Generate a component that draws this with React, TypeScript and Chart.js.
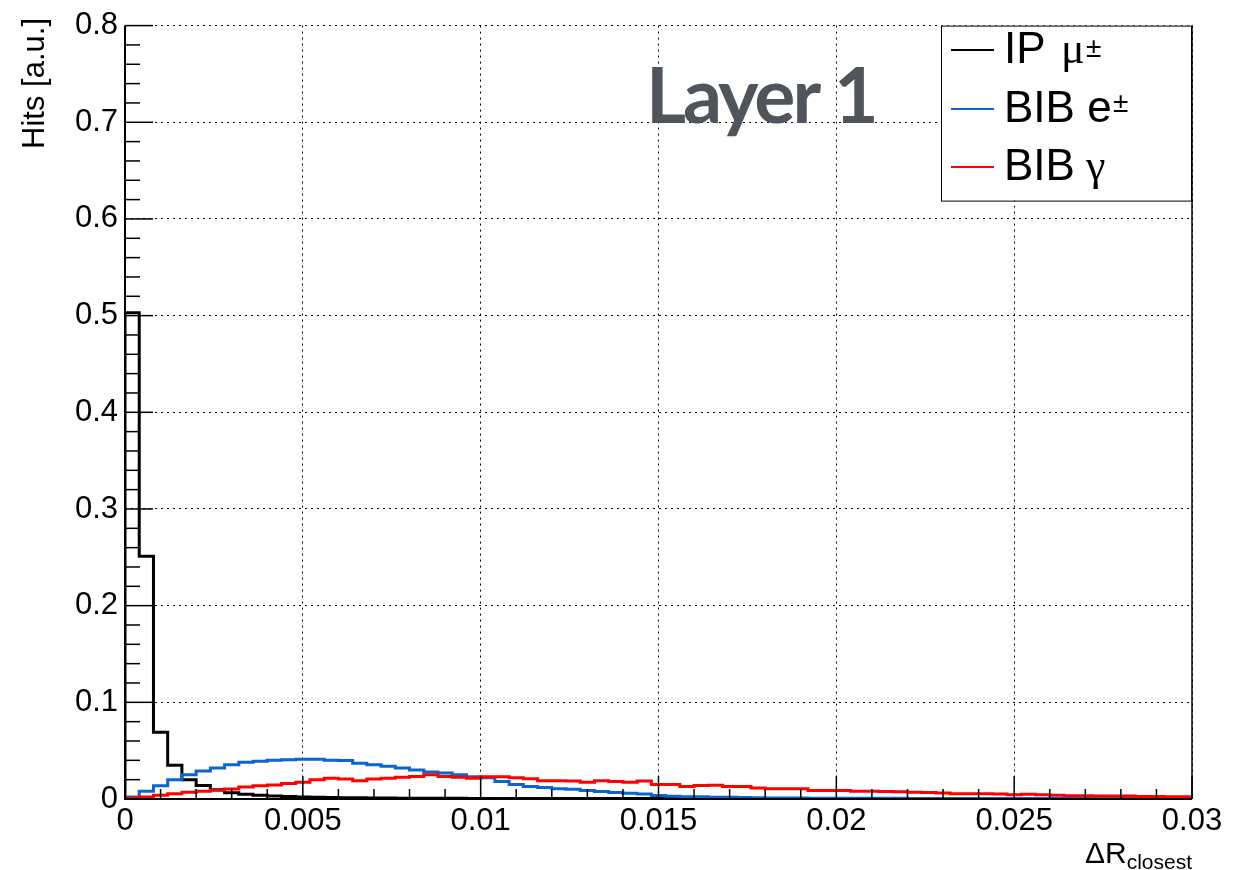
import React, { useEffect, useRef } from "react";
import { Chart, registerables } from "chart.js";

Chart.register(...registerables);

const BIN_WIDTH = 0.0004;
const X_MIN = 0;
const X_MAX = 0.03;
const Y_MIN = 0;
const Y_MAX = 0.8;

const xTickValues = [0, 0.005, 0.01, 0.015, 0.02, 0.025, 0.03];
const xTickLabels = ["0", "0.005", "0.01", "0.015", "0.02", "0.025", "0.03"];
const yTickValues = [0, 0.1, 0.2, 0.3, 0.4, 0.5, 0.6, 0.7, 0.8];
const yTickLabels = ["0", "0.1", "0.2", "0.3", "0.4", "0.5", "0.6", "0.7", "0.8"];

// IP mu± (black)
const ipMu = [
  0.503, 0.251, 0.069, 0.035, 0.02, 0.014, 0.0095, 0.0065, 0.0048, 0.0038,
  0.003, 0.0025, 0.0021, 0.0018, 0.0015, 0.0013, 0.0012, 0.0011, 0.001, 0.0009,
  0.0008, 0.0008, 0.0007, 0.0007, 0.0006, 0.0006, 0.0006, 0.0005, 0.0005, 0.0005,
  0.0004, 0.0004, 0.0004, 0.0004, 0.0004, 0.0004, 0.0004, 0.0004, 0.0004, 0.0004,
  0.0003, 0.0003, 0.0003, 0.0003, 0.0003, 0.0003, 0.0003, 0.0003, 0.0003, 0.0003,
  0.0002, 0.0002, 0.0002, 0.0002, 0.0002, 0.0002, 0.0002, 0.0002, 0.0002, 0.0002,
  0.0002, 0.0002, 0.0001, 0.0001, 0.0001, 0.0001, 0.0001, 0.0001, 0.0001, 0.0001,
  0.0001, 0.0001, 0.0001, 0.0001, 0.0001,
];

// BIB e± (blue)
const bibE = [
  0.002, 0.008, 0.0138, 0.02, 0.025, 0.029, 0.032, 0.0355, 0.038, 0.039,
  0.04, 0.0407, 0.041, 0.041, 0.04, 0.0397, 0.037, 0.0355, 0.034, 0.032,
  0.03, 0.028, 0.027, 0.025, 0.023, 0.022, 0.018, 0.015, 0.013, 0.012,
  0.0105, 0.01, 0.0087, 0.0077, 0.0066, 0.006, 0.0052, 0.0035, 0.0028, 0.0024,
  0.0024, 0.0017, 0.0017, 0.0015, 0.0012, 0.0011, 0.001, 0.001, 0.0009, 0.0009,
  0.0008, 0.0008, 0.0007, 0.0007, 0.0007, 0.0006, 0.0006, 0.0006, 0.0005, 0.0005,
  0.0005, 0.0005, 0.0004, 0.0004, 0.0004, 0.0004, 0.0004, 0.0003, 0.0003, 0.0003,
  0.0003, 0.0003, 0.0003, 0.0002, 0.0002,
];

// BIB gamma (red)
const bibGamma = [
  0.001, 0.002, 0.0038, 0.0055, 0.0069, 0.008, 0.009, 0.0103, 0.0124, 0.0138,
  0.0145, 0.016, 0.0172, 0.02, 0.0214, 0.0207, 0.019, 0.0207, 0.0214, 0.0224,
  0.0234, 0.025, 0.0234, 0.0224, 0.0214, 0.023, 0.023, 0.022, 0.021, 0.019,
  0.019, 0.0185, 0.0174, 0.019, 0.018, 0.0174, 0.0185, 0.015, 0.015, 0.013,
  0.014, 0.0143, 0.013, 0.013, 0.0115, 0.0105, 0.0105, 0.0105, 0.0087, 0.0087,
  0.0087, 0.008, 0.008, 0.0078, 0.0076, 0.007, 0.0068, 0.0062, 0.0055, 0.0055,
  0.0055, 0.0052, 0.0045, 0.0048, 0.0045, 0.004, 0.0034, 0.0034, 0.003, 0.0032,
  0.003, 0.0027, 0.0027, 0.0024, 0.0024,
];

const seriesNames = ["IP", "BIB", "BIB"];
const seriesColors = ["#000000", "#0a64d2", "#ff0000"];

const SANS = '"Liberation Sans", Arial, Helvetica, sans-serif';
const SERIF = '"Liberation Serif", "Times New Roman", serif';

function toSteps(values: number[]) {
  const pts: { x: number; y: number }[] = [{ x: 0, y: 0 }];
  values.forEach((v, i) => pts.push({ x: i * BIN_WIDTH, y: v }));
  pts.push({ x: values.length * BIN_WIDTH, y: values[values.length - 1] });
  return pts;
}

const rootPlugin = {
  id: "rootDecor",
  afterDraw(chart: any) {
    const { ctx, chartArea: a, scales } = chart;
    const xs = scales.x;
    const ys = scales.y;
    ctx.save();
    ctx.strokeStyle = "#000";
    ctx.lineCap = "butt";

    // frame
    ctx.lineWidth = 2;
    ctx.beginPath();
    ctx.moveTo(a.left, a.top);
    ctx.lineTo(a.left, a.bottom);
    ctx.lineTo(a.right, a.bottom);
    ctx.stroke();
    ctx.lineWidth = 1.5;
    ctx.beginPath();
    ctx.moveTo(a.right, a.bottom);
    ctx.lineTo(a.right, a.top);
    ctx.stroke();

    // x ticks
    ctx.lineWidth = 1.5;
    for (let i = 0; i < xTickValues.length; i++) {
      const v = xTickValues[i];
      const px = xs.getPixelForValue(v);
      ctx.beginPath();
      ctx.moveTo(px, a.bottom);
      ctx.lineTo(px, a.bottom - 23);
      ctx.stroke();
      if (i < xTickValues.length - 1) {
        const step = (xTickValues[i + 1] - v) / 5;
        for (let k = 1; k < 5; k++) {
          const mx = xs.getPixelForValue(v + k * step);
          ctx.beginPath();
          ctx.moveTo(mx, a.bottom);
          ctx.lineTo(mx, a.bottom - 10);
          ctx.stroke();
        }
      }
    }
    // y ticks
    for (let i = 0; i < yTickValues.length; i++) {
      const v = yTickValues[i];
      const py = ys.getPixelForValue(v);
      ctx.beginPath();
      ctx.moveTo(a.left, py);
      ctx.lineTo(a.left + 28, py);
      ctx.stroke();
      if (i < yTickValues.length - 1) {
        const step = (yTickValues[i + 1] - v) / 5;
        for (let k = 1; k < 5; k++) {
          const my = ys.getPixelForValue(v + k * step);
          ctx.beginPath();
          ctx.moveTo(a.left, my);
          ctx.lineTo(a.left + 15, my);
          ctx.stroke();
        }
      }
    }

    // "Layer 1"
    ctx.fillStyle = "#50555c";
    ctx.font = 'bold 77px Lato, "Open Sans", sans-serif';
    ctx.textAlign = "left";
    ctx.textBaseline = "alphabetic";
    try { (ctx as any).letterSpacing = "-3px"; } catch (e) {}
    ctx.fillText("Layer 1", 646, 123);
    try { (ctx as any).letterSpacing = "0px"; } catch (e) {}

    // legend
    const lx = 941, ly = a.top, lw = a.right - 941, lh = 175;
    ctx.fillStyle = "#fff";
    ctx.fillRect(lx, ly, lw, lh);
    ctx.lineWidth = 1;
    ctx.strokeStyle = "#000";
    ctx.strokeRect(lx + 0.5, ly + 0.5, lw - 1, lh);
    const lineYs = [50, 109, 167];
    const baseYs = [63, 122, 180];
    for (let i = 0; i < 3; i++) {
      ctx.strokeStyle = seriesColors[i];
      ctx.lineWidth = 2;
      ctx.beginPath();
      ctx.moveTo(951, lineYs[i]);
      ctx.lineTo(994, lineYs[i]);
      ctx.stroke();
    }
    ctx.fillStyle = "#000";
    // entry 1: IP μ±
    ctx.font = `44px ${SANS}`;
    ctx.fillText(seriesNames[0], 1004, baseYs[0]);
    ctx.font = `44px ${SERIF}`;
    ctx.fillText("\u03bc", 1061, baseYs[0]);
    ctx.font = `28px ${SANS}`;
    ctx.fillText("\u00b1", 1086, 57);
    // entry 2: BIB e±
    ctx.font = `44px ${SANS}`;
    ctx.fillText(seriesNames[1] + " e", 1004, baseYs[1]);
    ctx.font = `28px ${SANS}`;
    ctx.fillText("\u00b1", 1113, 112);
    // entry 3: BIB γ
    ctx.font = `44px ${SANS}`;
    ctx.fillText(seriesNames[2], 1004, baseYs[2]);
    ctx.font = `44px ${SERIF}`;
    ctx.fillText("\u03b3", 1086, baseYs[2]);

    // x title
    ctx.textAlign = "right";
    ctx.font = `21px ${SANS}`;
    const subW = ctx.measureText("closest").width;
    ctx.fillText("closest", a.right, 869);
    ctx.font = `30px ${SANS}`;
    ctx.fillText("\u0394R", a.right - subW, 863);

    // y title
    ctx.save();
    ctx.translate(44, 18);
    ctx.rotate(-Math.PI / 2);
    ctx.textAlign = "right";
    ctx.font = `31px ${SANS}`;
    ctx.fillText("Hits [a.u.]", 0, 0);
    ctx.restore();

    ctx.restore();
  },
};

export default function App() {
  const ref = useRef<HTMLCanvasElement | null>(null);
  useEffect(() => {
    if (!ref.current) return;
    const gridCommon = {
      display: true,
      drawTicks: false,
      color: "#000",
      lineWidth: 1,
    };
    const chart = new Chart(ref.current, {
      type: "line",
      data: {
        datasets: [
          { label: "IP μ±", data: toSteps(ipMu), borderColor: seriesColors[0], borderWidth: 3, order: 3 },
          { label: "BIB e±", data: toSteps(bibE), borderColor: seriesColors[1], borderWidth: 3, order: 2 },
          { label: "BIB γ", data: toSteps(bibGamma), borderColor: seriesColors[2], borderWidth: 3, order: 1 },
        ].map((d) => ({ ...d, stepped: true as any, pointRadius: 0, fill: false, tension: 0 })),
      },
      options: {
        responsive: false,
        animation: false,
        devicePixelRatio: 1,
        layout: { padding: { left: 0, top: 22, right: 53, bottom: 0 } },
        plugins: { legend: { display: false }, tooltip: { enabled: false } },
        scales: {
          x: {
            type: "linear",
            min: X_MIN,
            max: X_MAX,
            afterBuildTicks: (s: any) => {
              s.ticks = xTickValues.map((v) => ({ value: v }));
            },
            afterFit: (s: any) => {
              s.height = 870 - 22 - 777;
            },
            ticks: {
              autoSkip: false,
              maxRotation: 0,
              padding: 4,
              color: "#000",
              font: { family: SANS, size: 31 },
              callback: (_v: any, i: number) => xTickLabels[i],
            },
            grid: gridCommon,
            border: { display: false, dash: [2, 4] },
          },
          y: {
            type: "linear",
            min: Y_MIN,
            max: Y_MAX,
            afterBuildTicks: (s: any) => {
              s.ticks = yTickValues.map((v) => ({ value: v }));
            },
            afterFit: (s: any) => {
              s.width = 125;
            },
            ticks: {
              autoSkip: false,
              padding: 7,
              color: "#000",
              font: { family: SANS, size: 31 },
              callback: (_v: any, i: number) => yTickLabels[i],
            },
            grid: gridCommon,
            border: { display: false, dash: [2, 4] },
          },
        },
      },
      plugins: [rootPlugin],
    } as any);
    return () => chart.destroy();
  }, []);
  return (
    <div style={{ position: "absolute", left: 0, top: 0, width: 1245, height: 870, background: "#fff" }}>
      <canvas ref={ref} width={1245} height={870} style={{ display: "block" }} />
    </div>
  );
}
